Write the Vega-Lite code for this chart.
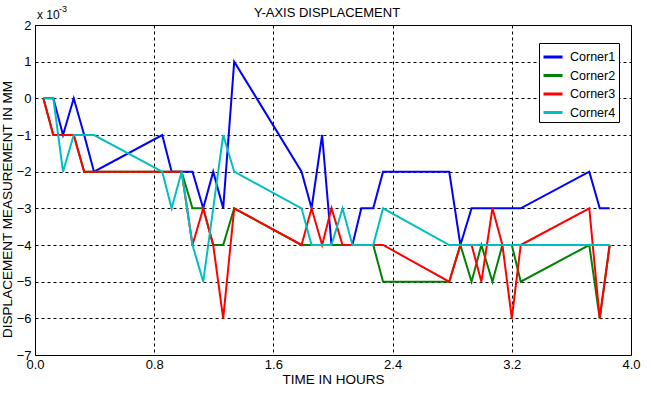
{
  "$schema": "https://vega.github.io/schema/vega-lite/v6.json",
  "width": 596,
  "height": 330,
  "autosize": {"type": "none"},
  "padding": {"left": 35, "top": 25, "right": 22, "bottom": 44},
  "background": "white",
  "title": {"text": "Y-AXIS DISPLACEMENT", "frame": "group", "font": "Liberation Sans", "fontSize": 13, "fontWeight": "normal", "color": "black", "offset": -15, "dx": -6},
  "config": {
    "view": {"stroke": "black", "strokeWidth": 1},
    "axis": {
      "domain": false,
      "ticks": false,
      "grid": true,
      "gridColor": "black",
      "gridDash": [3, 3],
      "gridOpacity": 1,
      "gridWidth": 1,
      "labelFont": "Liberation Sans",
      "labelFontSize": 13,
      "labelColor": "black",
      "labelOverlap": false,
      "labelFlush": false,
      "titleFont": "Liberation Sans",
      "titleFontSize": 13.5,
      "titleFontWeight": "normal",
      "titleColor": "black"
    }
  },
  "data": {
    "values": [
      {"t": 0.056, "Corner1": 0, "Corner2": 0, "Corner3": 0, "Corner4": 0},
      {"t": 0.123, "Corner1": 0, "Corner2": -0.001, "Corner3": -0.001, "Corner4": 0},
      {"t": 0.188, "Corner1": -0.001, "Corner2": -0.001, "Corner3": -0.001, "Corner4": -0.002},
      {"t": 0.26, "Corner1": 0, "Corner2": -0.001, "Corner3": -0.001, "Corner4": -0.001},
      {"t": 0.33, "Corner1": -0.001, "Corner2": -0.002, "Corner3": -0.002, "Corner4": -0.001},
      {"t": 0.396, "Corner1": -0.002, "Corner2": -0.002, "Corner3": -0.002, "Corner4": -0.001},
      {"t": 0.854, "Corner1": -0.001, "Corner2": -0.002, "Corner3": -0.002, "Corner4": -0.002},
      {"t": 0.917, "Corner1": -0.002, "Corner2": -0.002, "Corner3": -0.002, "Corner4": -0.003},
      {"t": 0.984, "Corner1": -0.002, "Corner2": -0.002, "Corner3": -0.002, "Corner4": -0.002},
      {"t": 1.057, "Corner1": -0.002, "Corner2": -0.003, "Corner3": -0.004, "Corner4": -0.004},
      {"t": 1.129, "Corner1": -0.003, "Corner2": -0.003, "Corner3": -0.003, "Corner4": -0.005},
      {"t": 1.196, "Corner1": -0.002, "Corner2": -0.004, "Corner3": -0.004, "Corner4": -0.003},
      {"t": 1.263, "Corner1": -0.003, "Corner2": -0.004, "Corner3": -0.006, "Corner4": -0.001},
      {"t": 1.337, "Corner1": 0.001, "Corner2": -0.003, "Corner3": -0.003, "Corner4": -0.002},
      {"t": 1.789, "Corner1": -0.002, "Corner2": -0.004, "Corner3": -0.004, "Corner4": -0.003},
      {"t": 1.856, "Corner1": -0.003, "Corner2": -0.004, "Corner3": -0.003, "Corner4": -0.004},
      {"t": 1.927, "Corner1": -0.001, "Corner2": -0.004, "Corner3": -0.004, "Corner4": -0.004},
      {"t": 1.99, "Corner1": -0.004, "Corner2": -0.004, "Corner3": -0.003, "Corner4": -0.004},
      {"t": 2.064, "Corner1": -0.004, "Corner2": -0.004, "Corner3": -0.004, "Corner4": -0.003},
      {"t": 2.13, "Corner1": -0.004, "Corner2": -0.004, "Corner3": -0.004, "Corner4": -0.004},
      {"t": 2.19, "Corner1": -0.003, "Corner2": -0.004, "Corner3": -0.004, "Corner4": -0.004},
      {"t": 2.27, "Corner1": -0.003, "Corner2": -0.004, "Corner3": -0.004, "Corner4": -0.004},
      {"t": 2.336, "Corner1": -0.002, "Corner2": -0.005, "Corner3": -0.004, "Corner4": -0.003},
      {"t": 2.78, "Corner1": -0.002, "Corner2": -0.005, "Corner3": -0.005, "Corner4": -0.004},
      {"t": 2.855, "Corner1": -0.004, "Corner2": -0.004, "Corner3": -0.004, "Corner4": -0.004},
      {"t": 2.93, "Corner1": -0.003, "Corner2": -0.005, "Corner3": -0.004, "Corner4": -0.004},
      {"t": 2.996, "Corner1": -0.003, "Corner2": -0.004, "Corner3": -0.005, "Corner4": -0.004},
      {"t": 3.07, "Corner1": -0.003, "Corner2": -0.005, "Corner3": -0.003, "Corner4": -0.004},
      {"t": 3.137, "Corner1": -0.003, "Corner2": -0.004, "Corner3": -0.004, "Corner4": -0.004},
      {"t": 3.2, "Corner1": -0.003, "Corner2": -0.004, "Corner3": -0.006, "Corner4": -0.004},
      {"t": 3.26, "Corner1": -0.003, "Corner2": -0.005, "Corner3": -0.004, "Corner4": -0.004},
      {"t": 3.72, "Corner1": -0.002, "Corner2": -0.004, "Corner3": -0.003, "Corner4": -0.004},
      {"t": 3.79, "Corner1": -0.003, "Corner2": -0.006, "Corner3": -0.006, "Corner4": -0.004},
      {"t": 3.857, "Corner1": -0.003, "Corner2": -0.004, "Corner3": -0.004, "Corner4": -0.004}
    ]
  },
  "layer": [
    {
      "transform": [{"fold": ["Corner1", "Corner2", "Corner3", "Corner4"], "as": ["series", "v"]}],
      "mark": {"type": "line", "strokeWidth": 2, "clip": true},
      "encoding": {
        "x": {
          "field": "t", "type": "quantitative",
          "scale": {"domain": [0, 4], "nice": false, "zero": false},
          "axis": {"values": [0, 0.8, 1.6, 2.4, 3.2, 4.0], "tickCount": 6, "format": ".1f", "labelPadding": 3, "title": "TIME IN HOURS", "titlePadding": 1}
        },
        "y": {
          "field": "v", "type": "quantitative",
          "scale": {"domain": [-0.007, 0.002], "nice": false, "zero": false},
          "axis": {"values": [-0.007, -0.006, -0.005, -0.004, -0.003, -0.002, -0.001, 0, 0.001, 0.002], "tickCount": 12, "labelExpr": "format(datum.value * 1000, 'd')", "labelPadding": 4, "title": "DISPLACEMENT MEASUREMENT IN MM", "titlePadding": 2, "titleY": 184}
        },
        "color": {
          "field": "series", "type": "nominal",
          "scale": {"domain": ["Corner1", "Corner2", "Corner3", "Corner4"], "range": ["#0000FF", "#008000", "#FF0000", "#00BFBF"]},
          "legend": {
            "orient": "none", "legendX": 504, "legendY": 18, "title": null,
            "fillColor": "white", "strokeColor": "black", "padding": 3, "cornerRadius": 0,
            "symbolType": "stroke", "symbolSize": 361, "symbolStrokeWidth": 3,
            "labelFont": "Liberation Sans", "labelFontSize": 12.5, "labelColor": "black",
            "rowPadding": 0.5, "labelOffset": 6
          }
        }
      }
    },
    {
      "data": {"values": [{"label": "x 10"}]},
      "mark": {"type": "text", "align": "left", "baseline": "bottom", "dx": 2, "dy": -3, "font": "Liberation Sans", "fontSize": 12, "color": "black"},
      "encoding": {"x": {"datum": 0, "type": "quantitative"}, "y": {"datum": 0.002, "type": "quantitative"}, "text": {"field": "label"}}
    },
    {
      "data": {"values": [{"label": "-3"}]},
      "mark": {"type": "text", "align": "left", "baseline": "bottom", "dx": 24, "dy": -11, "font": "Liberation Sans", "fontSize": 9, "color": "black"},
      "encoding": {"x": {"datum": 0, "type": "quantitative"}, "y": {"datum": 0.002, "type": "quantitative"}, "text": {"field": "label"}}
    }
  ]
}
